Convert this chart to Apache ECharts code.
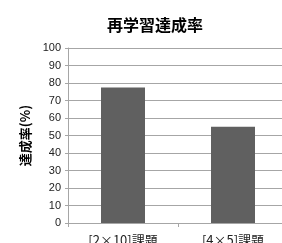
<!DOCTYPE html>
<html>
<head>
<meta charset="utf-8">
<script src="https://cdn.jsdelivr.net/npm/echarts@6/dist/echarts.min.js"></script>
<style>
html,body{margin:0;padding:0;background:#fff;}
#graphic{width:282px;height:243px;}
</style>
</head>
<body>
<div id="graphic"></div>
<script>
// データ
var categories = ['[2×10]課題', '[4×5]課題'];
var rateValues = [77.5, 55];
var yTicks = [0, 10, 20, 30, 40, 50, 60, 70, 80, 90, 100];

var fontFamily = '"Noto Sans CJK JP", "Liberation Sans", sans-serif';

var option = {
    animation: false,
    title: {
        text: '再学習達成率',
        left: 150, top: 12, textAlign: 'center',
        textStyle: {fontSize: 16, fontWeight: 'bold', color: '#000', fontFamily: fontFamily}
    },
    grid: {left: 68, right: -6, top: 48, bottom: 20, outerBoundsMode: 'none', containLabel: false},
    xAxis: {
        type: 'category',
        data: categories,
        axisLine: {lineStyle: {color: '#a6a6a6'}},
        axisTick: {show: true, length: 4, alignWithLabel: false, lineStyle: {color: '#a6a6a6'}},
        axisLabel: {color: '#222', fontSize: 13, margin: 11, fontFamily: fontFamily}
    },
    yAxis: {
        type: 'value',
        min: yTicks[0], max: yTicks[yTicks.length - 1], interval: 10,
        name: '達成率(%)',
        nameLocation: 'middle', nameGap: 36, nameRotate: 90,
        nameTextStyle: {fontSize: 13, fontWeight: 'bold', color: '#000', fontFamily: fontFamily},
        axisLine: {show: true, lineStyle: {color: '#a6a6a6'}},
        axisTick: {show: true, length: 3, lineStyle: {color: '#a6a6a6'}},
        axisLabel: {color: '#222', fontSize: 11, margin: 7, fontFamily: '"Liberation Sans", sans-serif'},
        splitLine: {lineStyle: {color: '#a6a6a6'}}
    },
    series: [{
        type: 'bar',
        data: rateValues,
        barWidth: 44,
        itemStyle: {color: '#606060'}
    }]
};

var graphic = echarts.init(document.getElementById('graphic'));
graphic.setOption(option);
</script>
</body>
</html>
